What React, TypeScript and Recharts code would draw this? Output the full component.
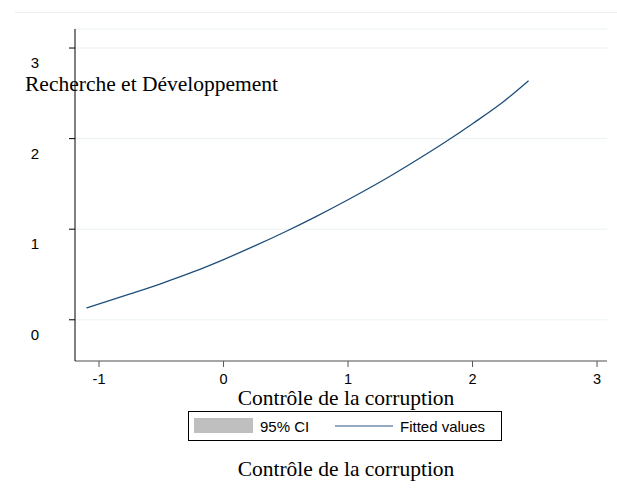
import React from 'react';
import { LineChart, Line, XAxis, YAxis, CartesianGrid } from 'recharts';

// fitted curve
const corruption = [-1.1, -0.75, -0.5, -0.25, 0, 0.25, 0.5, 0.75, 1, 1.25, 1.5, 1.75, 2, 2.25, 2.45];
const fitted = [0.13, 0.285, 0.4, 0.525, 0.665, 0.815, 0.975, 1.145, 1.325, 1.515, 1.72, 1.935, 2.165, 2.41, 2.64];

const xTicks = [-1, 0, 1, 2, 3];
const yTicks = [0, 1, 2, 3];

const yTitle = 'Recherche et Développement';
const xTitle = 'Contrôle de la corruption';
const legendLabels = ['95% CI', 'Fitted values'];

const data = corruption.map((x, i) => ({ x, fit: fitted[i] }));

const sans = '"Liberation Sans", Arial, sans-serif';
const serif = '"Liberation Serif", "Times New Roman", serif';
const lineColor = '#1f4e7a';

function YTick({ y, payload }: any) {
  return (
    <g>
      <line x1={69} x2={75} y1={y} y2={y} stroke="#000" />
      <text x={35} y={y + 20} textAnchor="middle" fontFamily={sans} fontSize={15} fill="#000">
        {payload.value}
      </text>
    </g>
  );
}

function XTick({ x, payload }: any) {
  return (
    <g>
      <line x1={x} x2={x} y1={361} y2={367} stroke="#555" />
      <text x={x} y={384} textAnchor="middle" fontFamily={sans} fontSize={14.5} fill="#000">
        {payload.value}
      </text>
    </g>
  );
}

export default function App() {
  return (
    <div style={{ position: 'absolute', left: 0, top: 0, width: 617, height: 492, background: '#fff' }}>
      <LineChart width={617} height={492} data={data} margin={{ top: 29, right: 10, left: 0, bottom: 0 }}>
        <CartesianGrid horizontal vertical={false} stroke="#eaf1f2" />
        <XAxis
          dataKey="x"
          type="number"
          domain={[-1.193, 3.08]}
          ticks={xTicks}
          allowDataOverflow
          height={131}
          stroke="#555"
          tickLine={false}
          tick={<XTick />}
        />
        <YAxis
          type="number"
          domain={[-0.455, 3.21]}
          ticks={yTicks}
          allowDataOverflow
          width={75}
          stroke="#000"
          tickLine={false}
          tick={<YTick />}
        />
        <Line
          type="monotone"
          dataKey="fit"
          stroke={lineColor}
          strokeWidth={1.3}
          dot={false}
          isAnimationActive={false}
        />
      </LineChart>
      <svg
        width={617}
        height={492}
        style={{ position: 'absolute', left: 0, top: 0, pointerEvents: 'none' }}
      >
        <line x1={15} x2={617} y1={12.5} y2={12.5} stroke="#eeeeee" />
        <text x={25} y={90.5} fontFamily={serif} fontSize={21.5} fill="#000">
          {yTitle}
        </text>
        <text x={346} y={405} textAnchor="middle" fontFamily={serif} fontSize={21.5} fill="#000">
          {xTitle}
        </text>
        <rect x={188.5} y={411.5} width={313} height={29} fill="#fff" stroke="#000" />
        <rect x={194} y={418} width={59} height={15} fill="#bfbfbf" />
        <text x={260} y={432} fontFamily={sans} fontSize={15} fill="#000">
          {legendLabels[0]}
        </text>
        <line x1={335} x2={393} y1={426} y2={426} stroke="#6f8db0" strokeWidth={1.3} />
        <text x={400} y={432} fontFamily={sans} fontSize={15} fill="#000">
          {legendLabels[1]}
        </text>
        <text x={346} y={476} textAnchor="middle" fontFamily={serif} fontSize={21.5} fill="#000">
          {xTitle}
        </text>
      </svg>
    </div>
  );
}
